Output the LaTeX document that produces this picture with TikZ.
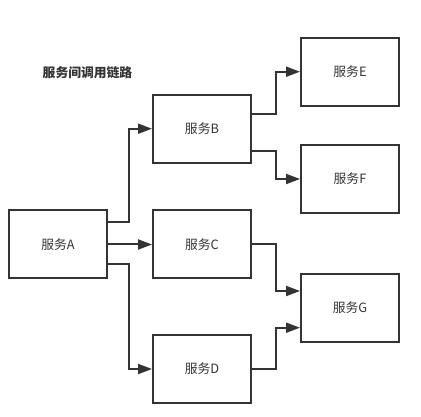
\documentclass[tikz,border=0pt]{standalone}
\usepackage{fontspec}
\setmainfont{Noto Sans CJK SC}
\usetikzlibrary{arrows.meta}
\definecolor{ln}{HTML}{333333}
\begin{document}
\begin{tikzpicture}[x=1pt,y=-1pt,
  svc/.style={draw=ln,line width=2pt,minimum width=98pt,minimum height=68pt,inner sep=0pt,font=\fontsize{12.8}{14}\selectfont,text=ln},
  arr/.style={draw=ln,line width=2pt,-{Triangle[length=14pt,width=10pt]}}]
\useasboundingbox (0,0) rectangle (421,417);
\node[font=\bfseries\fontsize{12.8}{14}\selectfont,text=ln] (title) at (87.5,73) {服务间调用链路};
\node[svc] (A) at (58,244.5) {服务A};
\node[svc] (B) at (202,128.7) {服务B};
\node[svc] (C) at (202,244.5) {服务C};
\node[svc] (D) at (202,369) {服务D};
\node[svc] (E) at (350,71.7) {服务E};
\node[svc] (F) at (350,179) {服务F};
\node[svc] (G) at (350,307.7) {服务G};
\draw[arr] (A.east |- 0,221.7) -- (129.3,221.7) |- (B.west);
\draw[arr] (A.east) -- (C.west);
\draw[arr] (A.east |- 0,263.7) -- (129.3,263.7) |- (D.west);
\draw[arr] (B.east |- 0,114) -- (275.7,114) |- (E.west);
\draw[arr] (B.east |- 0,151) -- (275.7,151) |- (F.west);
\draw[arr] (C.east) -- (275.7,244.5) |- (G.west |- 0,291);
\draw[arr] (D.east) -- (275.7,369) |- (G.west |- 0,327.7);
\end{tikzpicture}
\end{document}
